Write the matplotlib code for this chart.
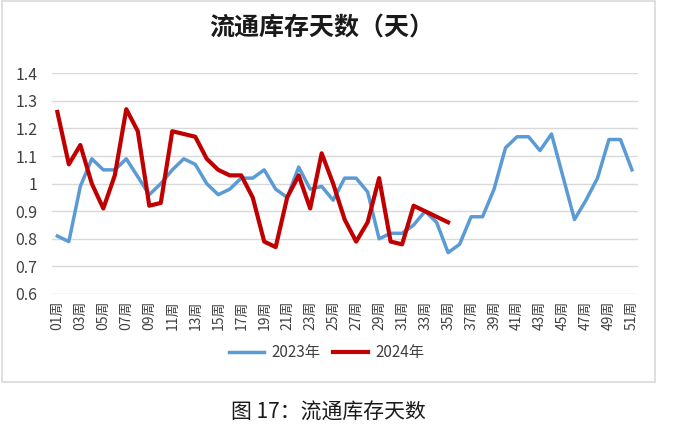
import matplotlib
matplotlib.use("Agg")
import matplotlib.pyplot as plt
from matplotlib.patches import Rectangle

plt.rcParams['font.family'] = ['Noto Sans CJK SC', 'DejaVu Sans']

weeks = list(range(1, 52))
week_labels = [f"{w:02d}周" for w in weeks]

values_2023 = [0.81, 0.79, 0.99, 1.09, 1.05, 1.05, 1.09, 1.025, 0.96, 1.00,
               1.05, 1.09, 1.07, 1.00, 0.96, 0.98, 1.02, 1.02, 1.05, 0.98,
               0.95, 1.06, 0.98, 0.99, 0.94, 1.02, 1.02, 0.97, 0.80, 0.82,
               0.82, 0.85, 0.90, 0.86, 0.75, 0.78, 0.88, 0.88, 0.98, 1.13,
               1.17, 1.17, 1.12, 1.18, 1.025, 0.87, 0.94, 1.02, 1.16, 1.16,
               1.05]
values_2024 = [1.26, 1.07, 1.14, 1.00, 0.91, 1.03, 1.27, 1.19, 0.92, 0.93,
               1.19, 1.18, 1.17, 1.09, 1.05, 1.03, 1.03, 0.95, 0.79, 0.77,
               0.95, 1.03, 0.91, 1.11, 1.00, 0.87, 0.79, 0.86, 1.02, 0.79,
               0.78, 0.92, 0.90, 0.88, 0.86]
series_names = ["2023年", "2024年"]
y_ticks = [0.6, 0.7, 0.8, 0.9, 1.0, 1.1, 1.2, 1.3, 1.4]
y_tick_labels = ["0.6", "0.7", "0.8", "0.9", "1", "1.1", "1.2", "1.3", "1.4"]

W, H = 699, 434
fig = plt.figure(figsize=(W / 100, H / 100), dpi=100)

# outer frame
fig.patches.append(Rectangle((2 / W, 1 - 381.5 / H), 653 / W, 380.5 / H,
                             transform=fig.transFigure, fill=False,
                             edgecolor='#D9D9D9', linewidth=1.2))

ax = fig.add_axes([51.6 / W, 1 - 294 / H, (637.7 - 51.6) / W, (294 - 73.3) / H])
ax.plot(weeks, values_2023, color='#5B9BD5', linewidth=2.5, label=series_names[0],
        solid_joinstyle='round')
ax.plot(weeks[:len(values_2024)], values_2024, color='#C00000', linewidth=3.0,
        label=series_names[1], solid_joinstyle='round')

ax.set_xlim(0.5, 51.5)
ax.set_ylim(0.6, 1.4)
ax.set_yticks(y_ticks)
ax.set_yticklabels(y_tick_labels, fontsize=11.5, color='#404040')
ax.set_xticks(weeks[::2])
ax.set_xticklabels(week_labels[::2], rotation=90, fontsize=10, color='#404040')
ax.tick_params(axis='both', length=0)
ax.tick_params(axis='y', pad=10)
ax.tick_params(axis='x', pad=5)
for s in ax.spines.values():
    s.set_visible(False)
ax.grid(axis='y', color='#D9D9D9', linewidth=1.0)
ax.set_axisbelow(True)

fig.text(322 / W, 1 - 28 / H, "流通库存天数（天）", ha='center', va='center',
         fontsize=18, fontweight='bold', color='#1a1a1a')

leg = fig.legend(loc='center', bbox_to_anchor=(327 / W, 1 - 353 / H), ncol=2,
                 frameon=False, fontsize=11, handlelength=2.3, columnspacing=0.8,
                 handletextpad=0.5)
for t in leg.get_texts():
    t.set_color('#404040')

fig.text(328 / W, 1 - 413 / H, "图 17：流通库存天数", ha='center', va='center',
         fontsize=15, color='#1a1a1a')

fig.savefig("out.png", dpi=100)
